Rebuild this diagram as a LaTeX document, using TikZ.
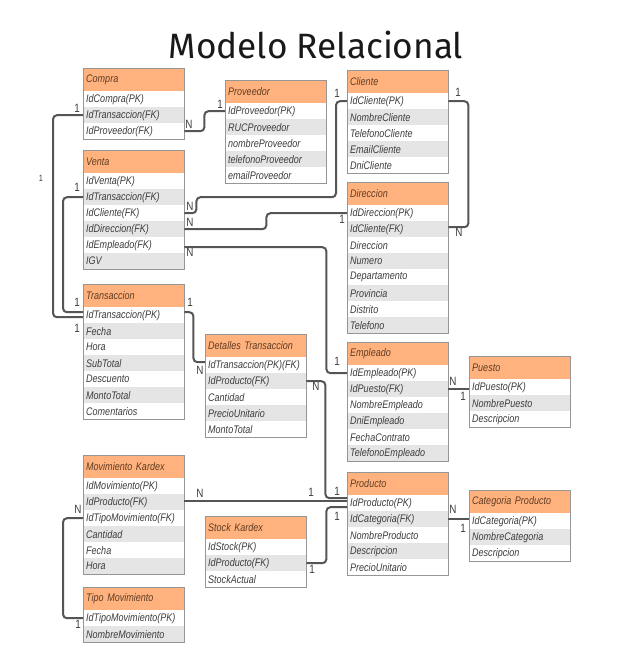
\documentclass[tikz,border=0pt]{standalone}
\usepackage{fontspec}
\setmainfont{Liberation Sans}[FakeStretch=0.82]
\newfontfamily\titlefont{Fira Sans}
\definecolor{hdrfill}{RGB}{255,178,125}
\definecolor{hdrtext}{RGB}{95,60,35}
\definecolor{rowgray}{RGB}{229,229,229}
\definecolor{rowtext}{RGB}{60,60,60}
\definecolor{bordergray}{RGB}{150,150,150}
\definecolor{connc}{RGB}{85,85,85}
\tikzset{
  hdr/.style={anchor=south west, minimum height=22pt, text width=95pt, inner xsep=3pt, inner ysep=0pt,
    fill=hdrfill, font=\fontsize{11}{13}\selectfont\itshape, text=hdrtext},
  erow/.style={anchor=north west, minimum height=16pt, text width=95pt, inner xsep=3pt, inner ysep=0pt,
    font=\fontsize{11}{13}\selectfont\itshape, text=rowtext},
  tabborder/.style={draw=bordergray, line width=0.8pt},
  conn/.style={draw=connc, line width=2pt, rounded corners=4pt},
  card/.style={font=\fontsize{12}{14}\selectfont, text=rowtext, inner sep=0pt},
}
\newcommand\ertab[6]{%
  \node[hdr] (#1-h) at (#2,#3) {#4};
  \foreach \r [count=\i] in {#6} {
    \ifodd\i\def\rf{white}\else\def\rf{rowgray}\fi
    \node[erow, fill=\rf] (#1-\i) at (#2,{#3+(\i-1)*16}) {\r};
  }
  \draw[tabborder] (#1-h.north west) rectangle (#1-#5.south east);
}
\begin{document}
\begin{tikzpicture}[x=1pt,y=-1pt]
\useasboundingbox[fill=white] (0,0) rectangle (642,648);
\node[font=\titlefont\fontsize{35.2}{38}\selectfont, anchor=base, text=black!90] (title) at (316,58) {Modelo Relacional};

\ertab{compra}{83}{91}{Compra}{3}{IdCompra(PK),IdTransaccion(FK),IdProveedor(FK)}
\ertab{prov}{225}{103}{Proveedor}{5}{IdProveedor(PK),RUCProveedor,nombreProveedor,telefonoProveedor,emailProveedor}
\ertab{venta}{83}{173}{Venta}{6}{IdVenta(PK),IdTransaccion(FK),IdCliente(FK),IdDireccion(FK),IdEmpleado(FK),IGV}
\ertab{cliente}{347}{93}{Cliente}{5}{IdCliente(PK),NombreCliente,TelefonoCliente,EmailCliente,DniCliente}
\ertab{dir}{347}{205}{Direccion}{8}{IdDireccion(PK),IdCliente(FK),Direccion,Numero,Departamento,Provincia,Distrito,Telefono}
\ertab{trans}{83}{307}{Transaccion}{7}{IdTransaccion(PK),Fecha,Hora,SubTotal,Descuento,MontoTotal,Comentarios}
\ertab{det}{205}{357}{Detalles Transaccion}{5}{IdTransaccion(PK)(FK),IdProducto(FK),Cantidad,PrecioUnitario,MontoTotal}
\ertab{emp}{347}{365}{Empleado}{6}{IdEmpleado(PK),IdPuesto(FK),NombreEmpleado,DniEmpleado,FechaContrato,TelefonoEmpleado}
\ertab{puesto}{469}{379}{Puesto}{3}{IdPuesto(PK),NombrePuesto,Descripcion}
\ertab{mov}{83}{478}{Movimiento Kardex}{6}{IdMovimiento(PK),IdProducto(FK),IdTipoMovimiento(FK),Cantidad,Fecha,Hora}
\ertab{tipo}{83}{610}{Tipo Movimiento}{2}{IdTipoMovimiento(PK),NombreMovimiento}
\ertab{stock}{205}{539}{Stock Kardex}{3}{IdStock(PK),IdProducto(FK),StockActual}
\ertab{prod}{347}{495}{Producto}{5}{IdProducto(PK),IdCategoria(FK),NombreProducto,Descripcion,PrecioUnitario}
\ertab{cat}{469}{513}{Categoria Producto}{3}{IdCategoria(PK),NombreCategoria,Descripcion}

% connectors
\draw[conn] (compra-2.west) -- ++(-30,0) |- ([yshift=-2pt]trans-1.west);
\draw[conn] (venta-2.west) -- ++(-20,0) |- ([yshift=3pt]trans-1.west);
\draw[conn] (compra-3.east) -- ++(20,0) |- (prov-1.west);
\draw[conn] (venta-3.east) -- ++(12,0) -- ++(0,-16) -| ([xshift=-11pt]cliente-1.west) -- (cliente-1.west);
\draw[conn] (venta-4.east) -- ++(82,0) |- (dir-1.west);
\draw[conn] ([yshift=-2pt]venta-5.east) -- ++(142,0) |- (emp-1.west);
\draw[conn] ([yshift=3pt]trans-1.east) -- ++(9,0) |- ([yshift=3pt]det-1.west);
\draw[conn] (det-2.east) -- ++(19,0) |- ([yshift=5pt]prod-1.west);
\draw[conn] ([yshift=1pt]mov-2.east) -- ([yshift=1pt]mov-2.east -| prod-1.west);
\draw[conn] (stock-2.east) -- ++(20,0) |- ([yshift=-4pt]prod-1.west);
\draw[conn] (emp-2.east) -- (emp-2.east -| puesto-1.west);
\draw[conn] (prod-2.east) -- (prod-2.east -| cat-1.west);
\draw[conn] (cliente-1.east) -- ++(20,0) |- ([yshift=2pt]dir-2.east);
\draw[conn] (mov-3.west) -- ++(-20,0) |- (tipo-1.west);

% cardinalities
\node[card] (c1) at (77,108) {1};
\node[card] (c2) at (77,187) {1};
\node[card] (c3) at (77,302) {1};
\node[card] (c4) at (77,328) {1};
\node[card] (c5) at (189,124) {N};
\node[card] (c6) at (220,104) {1};
\node[card] (c7) at (190,206) {N};
\node[card] (c8) at (190,222) {N};
\node[card] (c9) at (337,93) {1};
\node[card] (c10) at (342,219) {1};
\node[card] (c11) at (458,92) {1};
\node[card] (c12) at (459,232) {N};
\node[card] (c13) at (190,252) {N};
\node[card] (c14) at (190,302) {1};
\node[card] (c15) at (200,370) {N};
\node[card] (c16) at (316,386) {N};
\node[card] (c17) at (337,361) {1};
\node[card] (c18) at (453,381) {N};
\node[card] (c19) at (463,396) {1};
\node[card] (c20) at (337,491) {1};
\node[card] (c21) at (311,492) {1};
\node[card] (c22) at (337,516) {1};
\node[card] (c23) at (312,569) {1};
\node[card] (c24) at (453,509) {N};
\node[card] (c25) at (463,528) {1};
\node[card] (c26) at (200,493) {N};
\node[card] (c27) at (78,509) {N};
\node[card] (c28) at (78,624) {1};
\node[font=\fontsize{9}{10}\selectfont, text=rowtext, inner sep=0pt] (stray) at (41,178) {1};
\end{tikzpicture}
\end{document}
